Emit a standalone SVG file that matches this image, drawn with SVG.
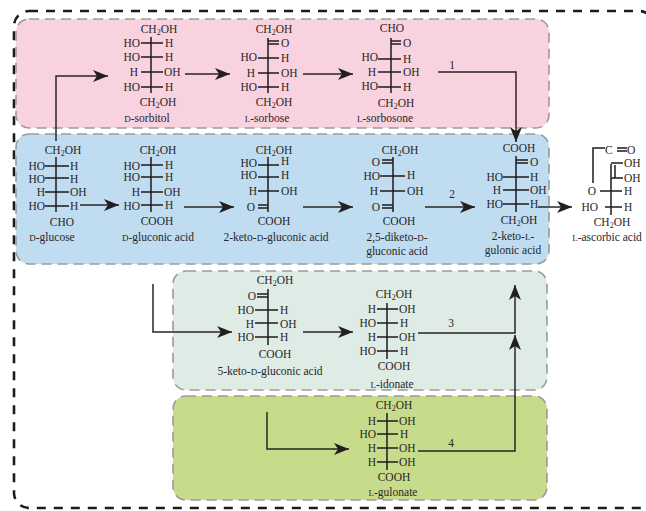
<svg xmlns="http://www.w3.org/2000/svg" width="646" height="511" viewBox="0 0 646 511">
<style>
text{font-family:"Liberation Serif","Times New Roman",serif;font-size:11.5px;fill:#2a2526}
.c{text-anchor:middle}.e{text-anchor:end}
.s{font-size:8px}.sc{font-size:9px}
.p{stroke:#9a9a9a;stroke-width:1.6;stroke-dasharray:10 6}
.b{stroke:#1f1a1c;stroke-width:1.5;fill:none}
.a{stroke:#2a2526;stroke-width:1.5;fill:none}
.ah{marker-end:url(#h)}
</style>
<defs>
<marker id="h" markerUnits="userSpaceOnUse" markerWidth="16" markerHeight="13" refX="15" refY="6.5" orient="auto"><path d="M0 0.5L15 6.5L0 12.5L4 6.5z" fill="#231f20"/></marker>
</defs>
<rect width="646" height="511" fill="#fff"/>
<rect x="14" y="11" width="640" height="497" rx="15" fill="none" stroke="#1c1c1c" stroke-width="2.6" stroke-dasharray="9 8"/>
<g id="panels">
<rect class="p" x="16" y="19" width="533" height="109" rx="13" fill="#f8d2df"/>
<rect class="p" x="16" y="134" width="533" height="130" rx="13" fill="#bfdcf1"/>
<rect class="p" x="173" y="271" width="374" height="119" rx="13" fill="#dfece5"/>
<rect class="p" x="173" y="396" width="374" height="104" rx="13" fill="#c7dc8b"/>
</g>
<g id="connectors">
<path class="a ah" d="M56 141V76H108"/>
<path class="a ah" d="M185 74H230"/>
<path class="a ah" d="M303 74H353"/>
<path class="a ah" d="M438 72H516V142"/>
<path class="a ah" d="M80 205H119"/>
<path class="a ah" d="M184 207H234"/>
<path class="a ah" d="M303 207H353"/>
<path class="a ah" d="M425 207H475"/>
<path class="a ah" d="M538 207H572"/>
<path class="a ah" d="M153 284V332H232"/>
<path class="a ah" d="M303 332H353"/>
<path class="a ah" d="M418 333H515V285"/>
<path class="a ah" d="M418 451H515V335"/>
<path class="a ah" d="M267 412V449H349"/>
<text class="c" x="452" y="69">1</text>
<text class="c" x="452" y="198">2</text>
<text class="c" x="451" y="327">3</text>
<text class="c" x="451" y="447">4</text>
</g>
<g id="d-sorbitol">
<path class="b" d="M151 37V93M141 43H163M141 57H163M141 72H163M141 87H163"/>
<text class="c" x="159" y="33">CH<tspan class="s" dy="2">2</tspan><tspan dy="-2">OH</tspan></text>
<text class="e" x="140" y="47">HO</text><text x="165" y="47">H</text>
<text class="e" x="140" y="61">HO</text><text x="165" y="61">H</text>
<text class="e" x="138" y="76">H</text><text x="164" y="76">OH</text>
<text class="e" x="140" y="91">HO</text><text x="165" y="91">H</text>
<text class="c" x="158" y="106">CH<tspan class="s" dy="2">2</tspan><tspan dy="-2">OH</tspan></text>
<text class="c" x="147" y="122"><tspan class="sc">D</tspan>-sorbitol</text>
</g>
<g id="l-sorbose">
<path class="b" d="M268 38V93M268 41H279M268 44H279M258 58H279M258 73H279M258 87H279"/>
<text class="c" x="274" y="33">CH<tspan class="s" dy="2">2</tspan><tspan dy="-2">OH</tspan></text>
<text x="281" y="47">O</text>
<text class="e" x="257" y="61">HO</text><text x="281" y="62">H</text>
<text class="e" x="255" y="77">H</text><text x="281" y="77">OH</text>
<text class="e" x="257" y="91">HO</text><text x="281" y="91">H</text>
<text class="c" x="274" y="106">CH<tspan class="s" dy="2">2</tspan><tspan dy="-2">OH</tspan></text>
<text class="c" x="267" y="122"><tspan class="sc">L</tspan>-sorbose</text>
</g>
<g id="l-sorbosone">
<path class="b" d="M391 38V93M391 41H401M391 44H401M378 59H401M378 72H401M378 87H401"/>
<text class="c" x="392" y="32">CHO</text>
<text x="403" y="47">O</text>
<text class="e" x="378" y="61">HO</text><text x="403" y="63">H</text>
<text class="e" x="376" y="76">H</text><text x="403" y="76">OH</text>
<text class="e" x="378" y="90">HO</text><text x="403" y="91">H</text>
<text class="c" x="396" y="107">CH<tspan class="s" dy="2">2</tspan><tspan dy="-2">OH</tspan></text>
<text class="c" x="385" y="122"><tspan class="sc">L</tspan>-sorbosone</text>
</g>
<g id="d-glucose">
<path class="b" d="M56 157V212M45 166H69M45 178H69M45 192H69M45 206H69"/>
<text class="c" x="63" y="154">CH<tspan class="s" dy="2">2</tspan><tspan dy="-2">OH</tspan></text>
<text class="e" x="45" y="170">HO</text><text x="70" y="170">H</text>
<text class="e" x="45" y="183">HO</text><text x="70" y="183">H</text>
<text class="e" x="45" y="196">H</text><text x="70" y="196">OH</text>
<text class="e" x="45" y="210">HO</text><text x="70" y="210">H</text>
<text class="c" x="62" y="226">CHO</text>
<text class="c" x="52" y="241"><tspan class="sc">D</tspan>-glucose</text>
</g>
<g id="d-gluconic-acid">
<path class="b" d="M151 157V212M141 165H163M141 177H163M141 192H163M141 205H163"/>
<text class="c" x="158" y="154">CH<tspan class="s" dy="2">2</tspan><tspan dy="-2">OH</tspan></text>
<text class="e" x="140" y="170">HO</text><text x="165" y="169">H</text>
<text class="e" x="140" y="181">HO</text><text x="165" y="181">H</text>
<text class="e" x="140" y="196">H</text><text x="164" y="196">OH</text>
<text class="e" x="140" y="210">HO</text><text x="165" y="209">H</text>
<text class="c" x="157" y="225">COOH</text>
<text class="c" x="158" y="241"><tspan class="sc">D</tspan>-gluconic acid</text>
</g>
<g id="keto-d-gluconic-acid">
<path class="b" d="M268 157V212M258 165H279M258 177H279M258 191H279M258 205H268M258 208H268"/>
<text class="c" x="274" y="154">CH<tspan class="s" dy="2">2</tspan><tspan dy="-2">OH</tspan></text>
<text class="e" x="257" y="167">HO</text><text x="281" y="165">H</text>
<text class="e" x="257" y="179">HO</text><text x="281" y="179">H</text>
<text class="e" x="257" y="195">H</text><text x="281" y="195">OH</text>
<text class="e" x="255" y="211">O</text>
<text class="c" x="274" y="225">COOH</text>
<text class="c" x="276" y="241">2-keto-<tspan class="sc">D</tspan>-gluconic acid</text>
</g>
<g id="diketo-d-gluconic-acid">
<path class="b" d="M393 157V212M382 160H393M382 163H393M380 176H405M380 191H405M382 205H393M382 208H393"/>
<text class="c" x="400" y="154">CH<tspan class="s" dy="2">2</tspan><tspan dy="-2">OH</tspan></text>
<text class="e" x="380" y="166">O</text>
<text class="e" x="380" y="180">HO</text><text x="407" y="179">H</text>
<text class="e" x="378" y="195">H</text><text x="407" y="195">OH</text>
<text class="e" x="380" y="211">O</text>
<text class="c" x="399" y="225">COOH</text>
<text class="c" x="397" y="241">2,5-diketo-<tspan class="sc">D</tspan>-</text>
<text class="c" x="397" y="255">gluconic acid</text>
</g>
<g id="keto-l-gulonic-acid">
<path class="b" d="M516 156V212M516 160H528M516 163H528M503 177H529M503 190H529M503 204H529"/>
<text class="c" x="519" y="152">COOH</text>
<text x="530" y="166">O</text>
<text class="e" x="503" y="181">HO</text><text x="530" y="181">H</text>
<text class="e" x="501" y="194">H</text><text x="530" y="194">OH</text>
<text class="e" x="503" y="208">HO</text><text x="530" y="208">H</text>
<text class="c" x="519" y="224">CH<tspan class="s" dy="2">2</tspan><tspan dy="-2">OH</tspan></text>
<text class="c" x="513" y="240">2-keto-<tspan class="sc">L</tspan>-</text>
<text class="c" x="513" y="254">gulonic acid</text>
</g>
<g id="l-ascorbic-acid">
<path class="b" d="M593 183V148H605M617 148H627M617 151H627M611 164V215M615 165V178M611 163H623M611 178H623M600 191H622M605 207H622"/>
<text x="605" y="154">C</text>
<text x="627" y="154">O</text>
<text x="624" y="167">OH</text>
<text x="624" y="182">OH</text>
<text class="c" x="592" y="195">O</text><text x="624" y="195">H</text>
<text class="e" x="598" y="211">HO</text><text x="624" y="211">H</text>
<text class="c" x="612" y="226">CH<tspan class="s" dy="2">2</tspan><tspan dy="-2">OH</tspan></text>
<text class="c" x="607" y="241"><tspan class="sc">L</tspan>-ascorbic acid</text>
</g>
<g id="keto-d-gluconic-5">
<path class="b" d="M268 289V345M257 294H268M257 297H268M255 310H278M255 323H278M255 337H278"/>
<text class="c" x="275" y="284">CH<tspan class="s" dy="2">2</tspan><tspan dy="-2">OH</tspan></text>
<text class="e" x="256" y="300">O</text>
<text class="e" x="254" y="314">HO</text><text x="280" y="314">H</text>
<text class="e" x="254" y="328">H</text><text x="280" y="328">OH</text>
<text class="e" x="254" y="341">HO</text><text x="280" y="341">H</text>
<text class="c" x="275" y="358">COOH</text>
<text class="c" x="270" y="375">5-keto-<tspan class="sc">D</tspan>-gluconic acid</text>
</g>
<g id="l-idonate">
<path class="b" d="M387 303V359M377 309H398M377 323H398M377 337H398M377 351H398"/>
<text class="c" x="394" y="298">CH<tspan class="s" dy="2">2</tspan><tspan dy="-2">OH</tspan></text>
<text class="e" x="376" y="313">H</text><text x="399" y="313">OH</text>
<text class="e" x="376" y="327">HO</text><text x="400" y="327">H</text>
<text class="e" x="376" y="341">H</text><text x="399" y="341">OH</text>
<text class="e" x="376" y="355">HO</text><text x="400" y="355">H</text>
<text class="c" x="394" y="370">COOH</text>
<text class="c" x="392" y="388"><tspan class="sc">L</tspan>-idonate</text>
</g>
<g id="l-gulonate">
<path class="b" d="M387 413V470M377 421H398M377 434H398M377 448H398M377 462H398"/>
<text class="c" x="394" y="409">CH<tspan class="s" dy="2">2</tspan><tspan dy="-2">OH</tspan></text>
<text class="e" x="376" y="425">H</text><text x="399" y="425">OH</text>
<text class="e" x="376" y="438">HO</text><text x="400" y="438">H</text>
<text class="e" x="376" y="452">H</text><text x="399" y="452">OH</text>
<text class="e" x="376" y="466">H</text><text x="399" y="466">OH</text>
<text class="c" x="394" y="481">COOH</text>
<text class="c" x="393" y="496"><tspan class="sc">L</tspan>-gulonate</text>
</g>
</svg>
